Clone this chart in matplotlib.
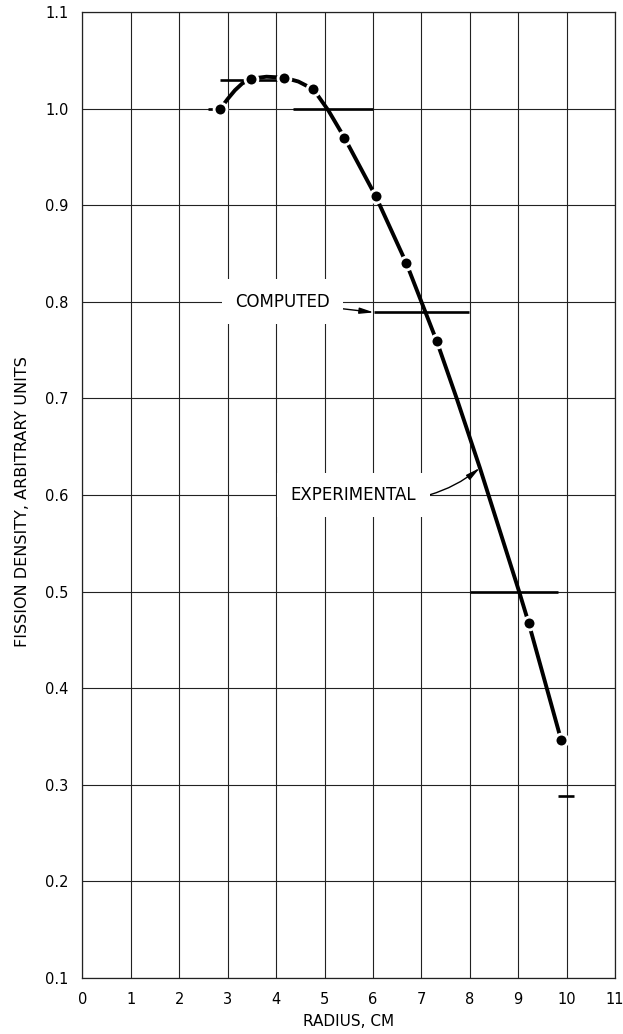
import numpy as np
import matplotlib.pyplot as plt

plt.rcParams['font.family'] = ['DejaVu Sans']

# experimental fission density points (radius in cm)
exp_r = [2.85, 3.49, 4.17, 4.77, 5.41, 6.06, 6.69, 7.32, 9.22, 9.89]
exp_f = [1.000, 1.031, 1.032, 1.020, 0.970, 0.909, 0.840, 0.759, 0.467, 0.346]

# faired curve through the experimental data
curve_r = [2.85, 3.00, 3.15, 3.30, 3.49, 3.80, 4.17, 4.46, 4.77, 5.08, 5.41,
           6.06, 6.69, 7.32, 7.73, 8.21, 9.02, 9.22, 9.89]
curve_f = [1.000, 1.010, 1.019, 1.026, 1.031, 1.033, 1.032, 1.028, 1.020, 0.998, 0.970,
           0.909, 0.840, 0.759, 0.700, 0.628, 0.500, 0.467, 0.346]

# computed step values: level, start radius, end radius
comp_f = [1.000, 1.030, 1.000, 0.789, 0.500, 0.288]
comp_r0 = [2.60, 2.85, 4.34, 6.02, 8.00, 9.83]
comp_r1 = [2.85, 4.23, 6.00, 7.99, 9.83, 10.16]

xticks = list(range(0, 12))
yticks = [0.1, 0.2, 0.3, 0.4, 0.5, 0.6, 0.7, 0.8, 0.9, 1.0, 1.1]
ytick_labels = ['0.1', '0.2', '0.3', '0.4', '0.5', '0.6', '0.7', '0.8', '0.9', '1.0', '1.1']

fig = plt.figure(figsize=(6.23, 10.34), dpi=100)
ax = fig.add_axes([0.1324, 0.0542, 0.8547, 0.9342])

ax.set_xlim(0, 11)
ax.set_ylim(0.1, 1.1)
ax.set_xticks(xticks)
ax.set_xticklabels([str(t) for t in xticks])
ax.set_yticks(yticks)
ax.set_yticklabels(ytick_labels)
ax.tick_params(axis='both', length=0, labelsize=10.5)
ax.tick_params(axis='x', pad=10)
ax.tick_params(axis='y', pad=10)
ax.grid(True, color='#222222', linewidth=0.8, zorder=0)
ax.set_axisbelow(True)
for s in ax.spines.values():
    s.set_linewidth(0.9)
    s.set_color('#222222')

# computed steps
ax.hlines(comp_f, comp_r0, comp_r1, colors='black', linewidth=1.9, zorder=3)

# experimental curve with gaps around the dots
ax.plot(curve_r, curve_f, color='black', linewidth=2.8, solid_capstyle='butt',
        solid_joinstyle='round', zorder=4)
ax.plot(exp_r, exp_f, linestyle='none', marker='o', markersize=9.2,
        markerfacecolor='black', markeredgecolor='white', markeredgewidth=2.0, zorder=5)

ax.annotate('COMPUTED', xy=(6.02, 0.789), xytext=(4.13, 0.8),
            fontsize=12, ha='center', va='center', zorder=6,
            bbox=dict(boxstyle='square,pad=0.8', fc='white', ec='none'),
            arrowprops=dict(arrowstyle='-|>,head_length=0.7,head_width=0.15',
                            color='black', lw=1.0, shrinkA=0, shrinkB=0))

ax.annotate('EXPERIMENTAL', xy=(8.21, 0.628), xytext=(5.60, 0.6),
            fontsize=12, ha='center', va='center', zorder=6,
            bbox=dict(boxstyle='square,pad=0.8', fc='white', ec='none'),
            arrowprops=dict(arrowstyle='-|>,head_length=0.7,head_width=0.15',
                            color='black', lw=1.0, shrinkA=0, shrinkB=0,
                            connectionstyle='arc3,rad=0.25'))

fig.text(349 / 623, 1 - 1022 / 1034, 'RADIUS, CM', fontsize=11, ha='center', va='center')
fig.text(23 / 623, 1 - 502 / 1034, 'FISSION DENSITY, ARBITRARY UNITS', fontsize=11.5,
         rotation=90, ha='center', va='center')

fig.savefig('out.png', dpi=100)
